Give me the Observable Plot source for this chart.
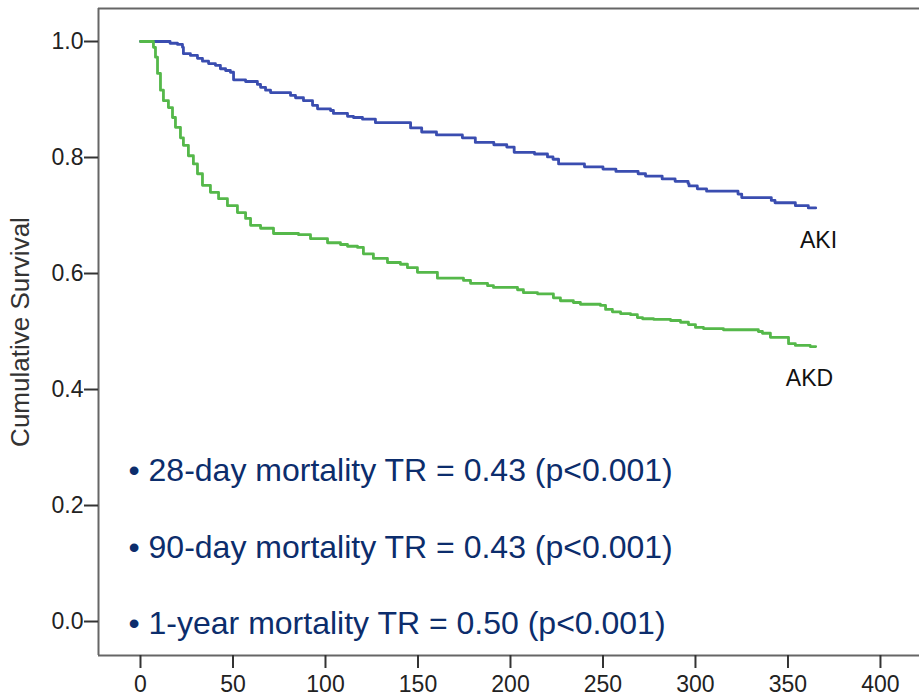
<!DOCTYPE html>
<html><head><meta charset="utf-8">
<script src="https://cdn.jsdelivr.net/npm/d3@7"></script>
<script src="https://cdn.jsdelivr.net/npm/@observablehq/plot@0.6"></script>
<style>html,body{margin:0;padding:0;background:#fff}</style>
</head><body><div id="chart"></div>
<script>
// Kaplan–Meier step points (days, cumulative survival)
const akiDays = [0,16,20,22.7,23.2,27,30.8,33.5,36.8,40.5,43.2,46,48.6,50.3,56.8,63.2,64.9,67.6,70.3,81.1,83.8,88.1,93,95.7,102.7,104.3,111.9,115.1,120,127,146,152,160,174,181,191,198,202,213,220,223,226,240,250,257,269,273,282,289,296,296.5,301,306,323,325,341,343,354,361,365];
const akiSurv = [1,0.997,0.995,0.99,0.979,0.976,0.971,0.966,0.962,0.959,0.953,0.95,0.947,0.934,0.931,0.926,0.921,0.916,0.912,0.907,0.903,0.898,0.89,0.884,0.881,0.876,0.871,0.869,0.866,0.86,0.851,0.844,0.839,0.834,0.826,0.822,0.818,0.809,0.806,0.801,0.797,0.789,0.784,0.78,0.776,0.772,0.768,0.763,0.759,0.755,0.751,0.746,0.742,0.737,0.731,0.726,0.722,0.717,0.713,0.713];
const akdDays = [0,7,8.1,9.2,10.8,12.4,15.1,17.3,18.9,21.6,23.2,25.9,28.6,30.8,33.5,37.8,42.2,47,52.4,56.8,59.5,64.9,71.9,85.4,91.9,101.1,108.1,111.9,117.3,120.5,125.9,133.5,140.5,144.3,149.7,160.5,174.6,178.4,187.6,190.8,203.8,207,214.6,223.2,227,234,237.8,248.6,251.4,255.1,259.5,264.9,268.6,271.4,277.3,286.5,291.9,296.2,300,304.3,315.1,334,336.2,340.5,350.3,354,362,365];
const akdSurv = [1,0.99,0.973,0.945,0.916,0.898,0.886,0.869,0.852,0.834,0.821,0.803,0.789,0.772,0.752,0.74,0.729,0.717,0.705,0.695,0.683,0.678,0.669,0.667,0.66,0.653,0.65,0.647,0.645,0.634,0.626,0.619,0.616,0.61,0.602,0.592,0.588,0.583,0.579,0.576,0.572,0.567,0.565,0.558,0.553,0.55,0.547,0.545,0.538,0.534,0.531,0.529,0.524,0.522,0.521,0.519,0.516,0.512,0.507,0.505,0.503,0.5,0.497,0.49,0.479,0.476,0.474,0.474];

const xTicks = [0,50,100,150,200,250,300,350,400];
const yTicks = [0,0.2,0.4,0.6,0.8,1.0];
const yTitle = "Cumulative Survival";
const groupLabels = ["AKI","AKD"];
const notes = [
  "\u2022 28-day mortality TR = 0.43 (p<0.001)",
  "\u2022 90-day mortality TR = 0.43 (p<0.001)",
  "\u2022 1-year mortality TR = 0.50 (p<0.001)"
];

// layout / style constants
const xDomain = [-22.7, 421.1];
const yDomain = [-0.0586, 1.0569];
const groupLabelPos = [[366.5, 0.657],[361.6, 0.419]];
const notePos = {x: -6.5, y: [0.260, 0.128, -0.003]};
const blue = "#3a4db0", green = "#55b84a", navy = "#0c2d6c";

const aki = akiDays.map((t,i)=>({t, s: akiSurv[i]}));
const akd = akdDays.map((t,i)=>({t, s: akdSurv[i]}));
const labels = groupLabels.map((g,i)=>({g, x: groupLabelPos[i][0], y: groupLabelPos[i][1]}));
const noteData = notes.map((n,i)=>({n, x: notePos.x, y: notePos.y[i]}));

const chart = Plot.plot({
  width: 919, height: 697,
  marginLeft: 98, marginRight: 0, marginTop: 8, marginBottom: 42,
  x: {domain: xDomain},
  y: {domain: yDomain},
  style: {fontFamily: "'Liberation Sans', Arial, sans-serif", fontSize: "23px", color: "#222", background: "#fff"},
  marks: [
    Plot.ruleX([xDomain[0]], {stroke: "#666", strokeWidth: 2}),
    Plot.ruleY([yDomain[0], yDomain[1]], {stroke: "#666", strokeWidth: 2}),
    Plot.axisX({ticks: xTicks, tickSize: 13, tickPadding: 7, label: null, strokeWidth: 2, stroke: "#333"}),
    Plot.axisY({ticks: yTicks, tickFormat: d3.format(".1f"), tickSize: 14, tickPadding: 1, strokeWidth: 2, stroke: "#333", label: null}),
    Plot.text([yTitle], {frameAnchor: "left", rotate: -90, dx: -78, fontSize: 26, fill: "#333", textAnchor: "middle"}),
    Plot.line(aki, {x: "t", y: "s", curve: "step-after", stroke: blue, strokeWidth: 2.8}),
    Plot.line(akd, {x: "t", y: "s", curve: "step-after", stroke: green, strokeWidth: 2.8}),
    Plot.text(labels, {x: "x", y: "y", text: "g", fill: "#111", fontSize: 23, textAnchor: "middle"}),
    Plot.text(noteData, {x: "x", y: "y", text: "n", fill: navy, fontSize: 32, textAnchor: "start"})
  ]
});
document.getElementById("chart").appendChild(chart);
</script></body></html>
